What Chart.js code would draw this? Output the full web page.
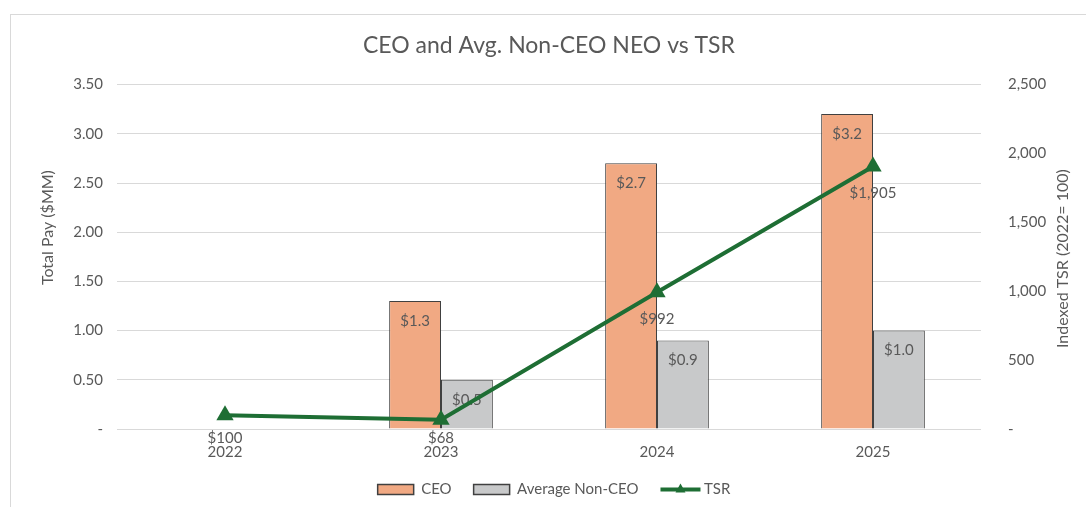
<!DOCTYPE html>
<html>
<head>
<meta charset="utf-8">
<script src="https://cdn.jsdelivr.net/npm/chart.js@4.4.1/dist/chart.umd.min.js"></script>
<style>
  html, body { margin: 0; padding: 0; background: #fff; }
  #wrap { position: relative; width: 1086px; height: 507px; overflow: hidden; }
  #frame { position: absolute; left: 10px; top: 14px; width: 1090px; height: 500px; border: 1px solid #d9d9d9; box-sizing: border-box; }
  canvas { position: absolute; left: 0; top: 0; }
</style>
</head>
<body>
<div id="wrap">
  <div id="frame"></div>
  <canvas id="chart" width="1086" height="507"></canvas>
</div>
<script>
// ---- data ----
const YEARS = ["2022", "2023", "2024", "2025"];
const CEO_PAY = [null, 1.3, 2.7, 3.2];          // $MM
const NEO_PAY = [null, 0.5, 0.9, 1.0];          // $MM, avg non-CEO
const TSR = [100, 68, 992, 1905];               // indexed, 2022 = 100

const GREY_TEXT = "#595959";
const GRID = "#d9d9d9";
const GREEN = "#1e6e34";
const FONT = "Lato, 'Open Sans', sans-serif";

function drawRotated(ctx, text, x, y) {
    ctx.save();
    ctx.translate(x, y);
    ctx.rotate(-Math.PI / 2);
    ctx.font = "16px " + FONT;
    ctx.fillStyle = GREY_TEXT;
    ctx.textAlign = "center";
    ctx.textBaseline = "middle";
    ctx.fillText(text, 0, 0);
    ctx.restore();
}

const labelsPlugin = {
    id: "labelsPlugin",
    afterLayout(chart) {
        // Excel centres title and legend a little right of the canvas middle
        chart.titleBlock.left += 6;
        chart.titleBlock.right += 6;
        chart.legend.left += 11;
        chart.legend.right += 11;
    },
    // values inside the top of each bar, drawn right after the bars so the line sits on top
    afterDatasetDraw(chart, args) {
        const ds = chart.data.datasets[args.index];
        if (ds.type === "line") return;
        const ctx = chart.ctx;
        ctx.save();
        ctx.font = "15px " + FONT;
        ctx.fillStyle = GREY_TEXT;
        ctx.textAlign = "center";
        ctx.textBaseline = "middle";
        args.meta.data.forEach((bar, i) => {
            const v = ds.data[i];
            if (v == null) return;
            ctx.fillText("$" + v.toFixed(1), bar.x, bar.y + 20);
        });
        ctx.restore();
    },
    afterDatasetsDraw(chart) {
        const ctx = chart.ctx;
        const idx = chart.data.datasets.findIndex(d => d.type === "line");
        const meta = chart.getDatasetMeta(idx);
        ctx.save();
        ctx.font = "15px " + FONT;
        ctx.fillStyle = GREY_TEXT;
        ctx.textAlign = "center";
        ctx.textBaseline = "middle";
        meta.data.forEach((pt, i) => {
            const y = Math.min(pt.y + 27, chart.chartArea.bottom + 9);
            ctx.fillText("$" + TSR[i].toLocaleString("en-US"), pt.x, y);
        });
        ctx.restore();
    },
    afterDraw(chart) {
        const ctx = chart.ctx;
        const area = chart.chartArea;
        // axis titles, both reading bottom to top
        drawRotated(ctx, "Total Pay ($MM)", 48, area.top + 143);
        drawRotated(ctx, "Indexed TSR (2022= 100)", area.right + 82, area.top + 174);

        // legend swatch for the TSR line: a line with a triangle marker
        const legend = chart.legend;
        const idx = legend.legendItems.findIndex(it => it.text === "TSR");
        if (idx < 0) return;
        const b = legend.legendHitBoxes[idx];
        const cy = b.top + b.height / 2;
        ctx.save();
        ctx.strokeStyle = GREEN;
        ctx.fillStyle = GREEN;
        ctx.lineWidth = 4;
        ctx.beginPath();
        ctx.moveTo(b.left, cy);
        ctx.lineTo(b.left + 40, cy);
        ctx.stroke();
        ctx.beginPath();
        ctx.moveTo(b.left + 20, cy - 6);
        ctx.lineTo(b.left + 25, cy + 3);
        ctx.lineTo(b.left + 15, cy + 3);
        ctx.closePath();
        ctx.fill();
        ctx.restore();
    }
};

new Chart(document.getElementById("chart"), {
    data: {
        labels: YEARS,
        datasets: [
            {
                type: "bar",
                label: "CEO",
                data: CEO_PAY,
                yAxisID: "y",
                backgroundColor: "#f1a983",
                borderColor: "#404040",
                borderWidth: 1,
                categoryPercentage: 0.48,
                barPercentage: 1,
                order: 1
            },
            {
                type: "bar",
                label: "Average Non-CEO",
                data: NEO_PAY,
                yAxisID: "y",
                backgroundColor: "#c8c9ca",
                borderColor: "#404040",
                borderWidth: 1,
                categoryPercentage: 0.48,
                barPercentage: 1,
                order: 1
            },
            {
                type: "line",
                label: "TSR",
                data: TSR,
                yAxisID: "y1",
                borderColor: GREEN,
                backgroundColor: GREEN,
                borderWidth: 4,
                pointStyle: "triangle",
                pointRadius: 10,
                pointBorderWidth: 0,
                tension: 0,
                order: 0
            }
        ]
    },
    options: {
        responsive: false,
        animation: false,
        layout: { padding: 0 },
        plugins: {
            title: {
                display: true,
                text: "CEO and Avg. Non-CEO NEO vs TSR",
                color: GREY_TEXT,
                font: { family: FONT, size: 23, weight: "normal" },
                padding: { top: 32, bottom: 25 }
            },
            legend: {
                position: "bottom",
                maxHeight: 48,
                labels: {
                    color: GREY_TEXT,
                    font: { family: FONT, size: 15 },
                    boxWidth: 36,
                    boxHeight: 10,
                    padding: 22,
                    sort: (a, b) => a.datasetIndex - b.datasetIndex,
                    generateLabels(chart) {
                        return chart.data.datasets.map((ds, i) => ({
                            text: ds.label,
                            datasetIndex: i,
                            fillStyle: ds.type === "line" ? "rgba(0,0,0,0)" : ds.backgroundColor,
                            strokeStyle: ds.type === "line" ? "rgba(0,0,0,0)" : "#404040",
                            lineWidth: ds.type === "line" ? 0 : 1.5,
                            fontColor: GREY_TEXT,
                            hidden: false
                        }));
                    }
                }
            },
            tooltip: { enabled: false }
        },
        scales: {
            x: {
                grid: { display: false },
                border: { display: false },
                ticks: { color: GREY_TEXT, font: { family: FONT, size: 15 }, padding: 6 },
                afterFit: s => { s.height = 31; }
            },
            y: {
                position: "left",
                min: 0,
                max: 3.5,
                ticks: {
                    stepSize: 0.5,
                    color: GREY_TEXT,
                    font: { family: FONT, size: 15 },
                    padding: 14,
                    callback: v => v === 0 ? "-" : v.toFixed(2)
                },
                grid: { color: GRID, drawTicks: false },
                border: { display: false },
                afterFit: s => { s.width = 117; }
            },
            y1: {
                position: "right",
                min: 0,
                max: 2500,
                ticks: {
                    stepSize: 500,
                    color: GREY_TEXT,
                    font: { family: FONT, size: 15 },
                    padding: 19,
                    callback: v => v === 0 ? "-" : v.toLocaleString("en-US")
                },
                grid: { display: false },
                border: { display: false },
                afterFit: s => { s.width = 105; }
            }
        }
    },
    plugins: [labelsPlugin]
});
</script>
</body>
</html>
